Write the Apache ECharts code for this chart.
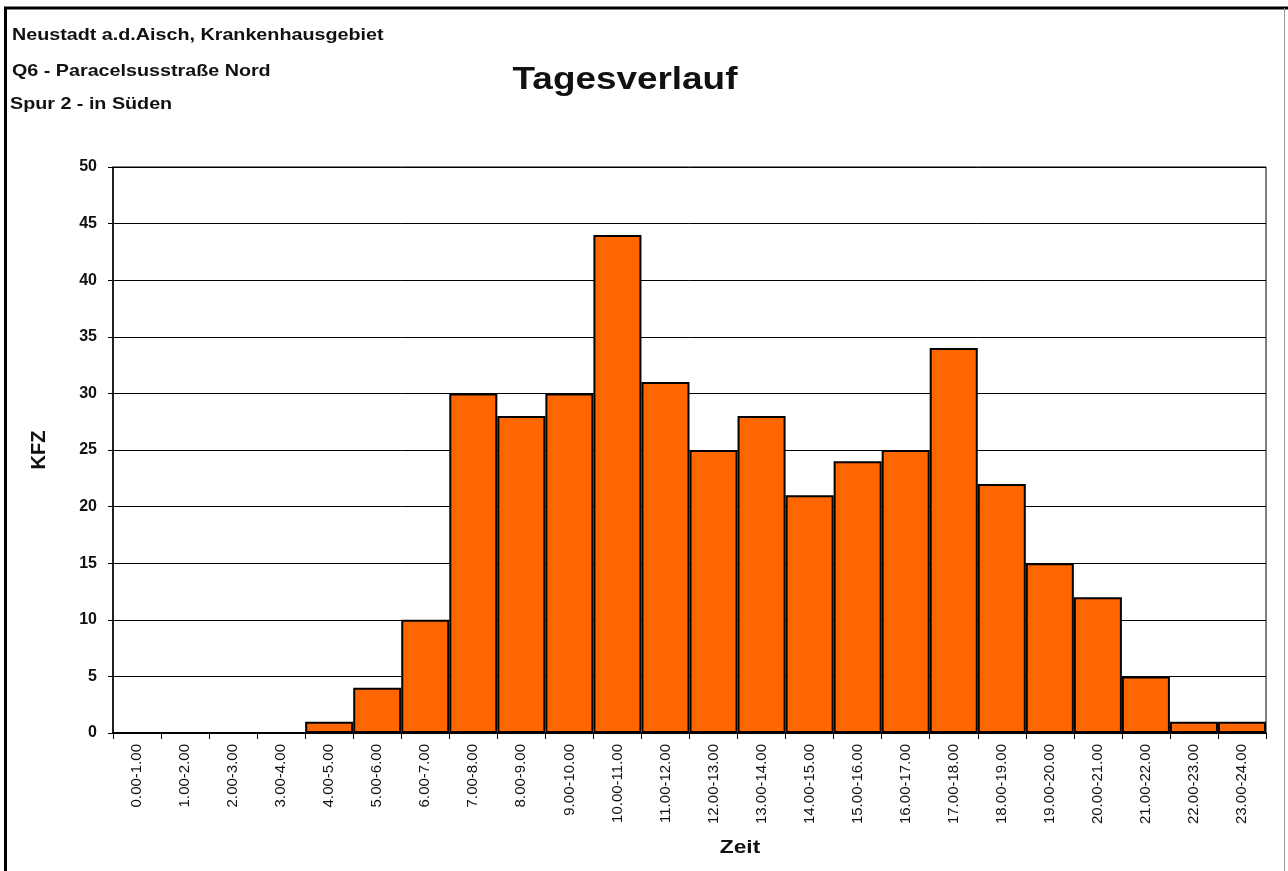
<!DOCTYPE html>
<html>
<head>
<meta charset="utf-8">
<script src="https://cdn.jsdelivr.net/npm/echarts@6/dist/echarts.min.js"></script>
<style>
html,body{margin:0;padding:0;background:#fff;}
#c{width:1288px;height:871px;}
</style>
</head>
<body>
<div id="c"></div>
<script>
const categories = ["0.00-1.00","1.00-2.00","2.00-3.00","3.00-4.00","4.00-5.00","5.00-6.00","6.00-7.00","7.00-8.00","8.00-9.00","9.00-10.00","10.00-11.00","11.00-12.00","12.00-13.00","13.00-14.00","14.00-15.00","15.00-16.00","16.00-17.00","17.00-18.00","18.00-19.00","19.00-20.00","20.00-21.00","21.00-22.00","22.00-23.00","23.00-24.00"];
const kfz = [0,0,0,0,1,4,10,30,28,30,44,31,25,28,21,24,25,34,22,15,12,5,1,1];
const headerLines = ["Neustadt a.d.Aisch, Krankenhausgebiet","Q6 - Paracelsusstraße Nord","Spur 2 - in Süden"];
const chartTitle = "Tagesverlauf";
const yName = "KFZ";
const xName = "Zeit";

const font = "'Liberation Sans', Arial, sans-serif";
const chart = echarts.init(document.getElementById('c'), null, {renderer:'canvas'});
function txt(t, x, y, size, sx, align){
  return {type:'text', x:x, y:y, scaleX:sx, style:{text:t, font:"bold "+size+"px "+font, fill:'#111', textAlign:align||'left', textVerticalAlign:'middle'}};
}
chart.setOption({
  animation:false,
  backgroundColor:'#fff',
  graphic:[
    {type:'line', shape:{x1:5.5,y1:8,x2:5.5,y2:871}, style:{stroke:'#000',lineWidth:3}},
    {type:'line', shape:{x1:4,y1:8,x2:1288,y2:8}, style:{stroke:'#000',lineWidth:3}},
    {type:'line', shape:{x1:1284.5,y1:8,x2:1284.5,y2:871}, style:{stroke:'#999',lineWidth:1}},
    txt(headerLines[0], 12, 35, 17, 1.16),
    txt(headerLines[1], 12, 71, 17, 1.16),
    txt(headerLines[2], 10, 104, 17, 1.16),
    txt(chartTitle, 625, 80, 31, 1.19, 'center'),
    txt(xName, 740, 848, 19, 1.2, 'center')
  ],
  grid:{left:113, right:22, top:167, bottom:138, show:true, borderColor:'#000', borderWidth:1},
  xAxis:{
    type:'category', data:categories, boundaryGap:true,
    axisLine:{lineStyle:{color:'#000', width:1.5}},
    axisTick:{show:true, length:6, lineStyle:{color:'#000'}},
    axisLabel:{rotate:90, fontFamily:font, fontSize:15, color:'#111', margin:11, interval:0}
  },
  yAxis:{
    type:'value', min:0, max:50, interval:5,
    name:yName, nameLocation:'middle', nameGap:64,
    nameTextStyle:{fontFamily:font, fontSize:20, fontWeight:'bold', color:'#111'},
    axisLine:{show:true, lineStyle:{color:'#000', width:1.5}},
    axisTick:{show:true, length:5, lineStyle:{color:'#000'}},
    axisLabel:{fontFamily:font, fontSize:16, fontWeight:'bold', color:'#111', margin:16},
    splitLine:{show:true, lineStyle:{color:'#000', width:1}}
  },
  series:[{
    type:'bar', data:kfz, barCategoryGap:'0%',
    itemStyle:{color:'#FF6600', borderColor:'#000', borderWidth:2}
  }]
});
</script>
</body>
</html>
